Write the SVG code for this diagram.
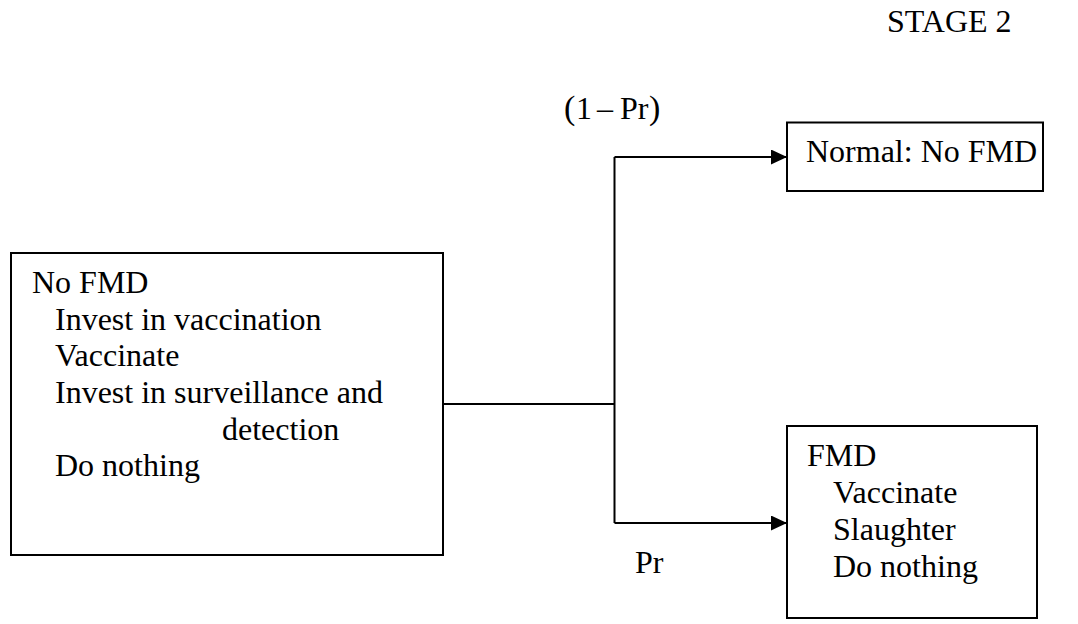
<svg xmlns="http://www.w3.org/2000/svg" width="1078" height="624" viewBox="0 0 1078 624">
<style>
text{font-family:"Liberation Serif","Times New Roman",serif;font-size:32px;fill:#000}
.box{fill:#fff;stroke:#000;stroke-width:2}
.conn{fill:none;stroke:#000;stroke-width:2}
</style>
<defs>
<marker id="arr" markerWidth="16" markerHeight="15" refX="16" refY="7.5" orient="auto" markerUnits="userSpaceOnUse">
<path d="M0,0 L16,7.5 L0,15 Z" fill="#000"/>
</marker>
</defs>
<rect width="1078" height="624" fill="#fff"/>
<text id="stage" x="887" y="32">STAGE 2</text>
<g id="connectors">
<path class="conn" d="M443,404 H614.5"/>
<path class="conn" d="M614.5,157 V523"/>
<path class="conn" d="M614.5,157 H787" marker-end="url(#arr)"/>
<path class="conn" d="M614.5,523 H787" marker-end="url(#arr)"/>
<text x="564" y="119"><tspan font-size="34">(</tspan><tspan x="576">1</tspan><tspan x="597">–</tspan><tspan x="620">Pr</tspan><tspan x="649" font-size="34">)</tspan></text>
<text x="635" y="573">Pr</text>
</g>
<g id="node-start">
<rect class="box" x="11" y="253" width="432" height="302"/>
<text x="32" y="293">No FMD</text>
<text x="55" y="330">Invest in vaccination</text>
<text x="55" y="366">Vaccinate</text>
<text x="55" y="403">Invest in surveillance and</text>
<text x="222" y="440">detection</text>
<text x="55" y="476">Do nothing</text>
</g>
<g id="node-normal">
<rect class="box" x="787" y="122.5" width="256" height="68.5"/>
<text x="806" y="162">Normal: No FMD</text>
</g>
<g id="node-fmd">
<rect class="box" x="787" y="426" width="250" height="192"/>
<text x="807" y="466">FMD</text>
<text x="833" y="503">Vaccinate</text>
<text x="833" y="540">Slaughter</text>
<text x="833" y="577">Do nothing</text>
</g>
</svg>
